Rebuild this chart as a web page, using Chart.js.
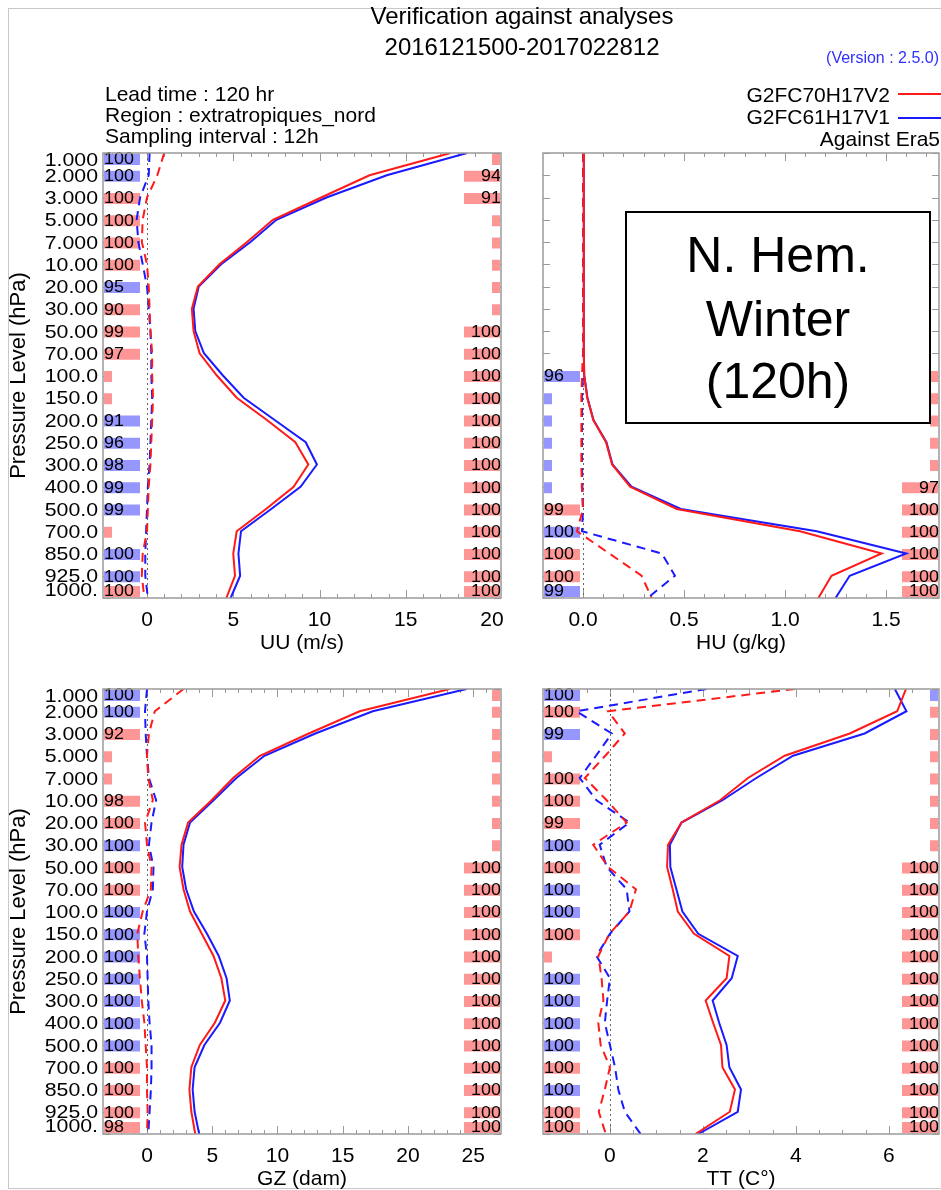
<!DOCTYPE html>
<html><head><meta charset="utf-8">
<script src="https://cdn.jsdelivr.net/npm/chart.js@4.4.1/dist/chart.umd.min.js"></script>
<style>
html,body{margin:0;padding:0;background:#fff;}
#wrap{position:relative;width:941px;height:1190px;overflow:hidden;background:#fff;}
#wrap canvas{position:absolute;left:0;top:0;}
#frame{position:absolute;left:8px;top:8px;width:940px;height:1179px;border:1px solid #c8c8c8;}
</style></head><body>
<div id="wrap"><div id="frame"></div>
<canvas id="cUU" width="941" height="1190"></canvas>
<canvas id="cHU" width="941" height="1190"></canvas>
<canvas id="cGZ" width="941" height="1190"></canvas>
<canvas id="cTT" width="941" height="1190"></canvas>
</div>
<script>
// ---------------- DATA ----------------
const levels = ['1.000','2.000','3.000','5.000','7.000','10.00','20.00','30.00','50.00','70.00','100.0','150.0','200.0','250.0','300.0','400.0','500.0','700.0','850.0','925.0','1000.'];
const expNew = 'G2FC70H17V2';
const expOld = 'G2FC61H17V1';

// UU (m/s)
const uuStdNew  = [17.6,12.9,10.1,7.3,5.8,4.2,2.95,2.6,2.7,3.05,4.05,5.2,6.95,8.6,9.35,8.5,6.9,5.2,5.0,5.1,4.6];
const uuStdOld  = [18.55,13.9,10.4,7.5,6.0,4.3,3.0,2.7,2.8,3.3,4.4,5.6,7.4,9.2,9.85,8.9,7.2,5.45,5.3,5.4,4.85];
const uuBiasNew = [1.0,0.6,0.0,-0.25,-0.3,0.0,0.1,0.15,0.2,0.3,0.3,0.35,0.3,0.25,0.2,0.1,0.05,0.0,-0.25,-0.3,-0.15];
const uuBiasOld = [0.15,0.1,-0.4,-0.6,-0.5,-0.25,0.0,0.1,0.2,0.25,0.25,0.3,0.25,0.2,0.15,0.05,0.0,-0.05,-0.1,-0.1,0.05];
const uuSigLeft  = ['b100','b100','r100','r100','r100','r100','b95','r90','r99','r97','r','r','b91','b96','b98','b99','b99','r','b100','b100','r100'];
const uuSigRight = ['r','r94','r91','r','r','r','r','r','r100','r100','r100','r100','r100','r100','r100','r100','r100','r100','r100','r100','r100'];
const uuTicks = [0,5,10,15,20];

// HU (g/kg)
const huStdNew  = [0.004,0.004,0.004,0.004,0.004,0.004,0.004,0.004,0.004,0.004,0.006,0.021,0.051,0.114,0.144,0.233,0.464,1.074,1.478,1.23,1.165];
const huStdOld  = [0.004,0.004,0.004,0.004,0.004,0.004,0.004,0.004,0.004,0.004,0.006,0.022,0.052,0.116,0.146,0.24,0.484,1.157,1.6,1.32,1.25];
const huBiasNew = [0,0,0,0,0,0,0,0,0,0,-0.005,-0.008,-0.008,-0.008,-0.008,-0.006,0.0,-0.03,0.13,0.29,0.34];
const huBiasOld = [0,0,0,0,0,0,0,0,0,0,0.0,-0.005,-0.005,-0.005,-0.005,-0.003,0.0,-0.005,0.39,0.455,0.32];
const huSigLeft  = ['','','','','','','','','','','b96','b','b','b','b','b','r99','b100','r100','r100','b99'];
const huSigRight = ['','','','','','','','','','','r','r','r','r','r','r97','r100','r100','r100','r100','r100'];
const huTicks = [0,0.5,1.0,1.5];

// GZ (dam)
const gzStdNew  = [23.2,16.3,12.4,8.66,6.6,4.95,3.15,2.65,2.5,2.8,3.3,4.2,5.1,5.7,6.0,5.2,4.05,3.4,3.25,3.4,3.7];
const gzStdOld  = [24.5,17.3,12.9,9.0,6.85,5.1,3.3,2.8,2.7,3.0,3.6,4.6,5.5,6.1,6.35,5.6,4.4,3.65,3.5,3.65,4.0];
const gzBiasNew = [2.8,0.6,0.15,0.0,0.1,0.45,-0.15,0.0,0.35,0.3,-0.33,-0.74,-0.67,-0.54,-0.4,-0.2,-0.1,0.0,0.0,0.05,0.0];
const gzBiasOld = [0.0,-0.15,-0.1,0.0,0.15,0.7,0.35,0.15,0.5,0.45,0.0,-0.2,0.0,0.05,0.1,0.2,0.35,0.35,0.3,0.2,0.1];
const gzSigLeft  = ['b100','b100','r92','r','r','r98','r100','b100','r100','r100','b100','b100','b100','b100','b100','b100','b100','r100','r100','r100','r98'];
const gzSigRight = ['r','r','r','r','r','r','r','r','r100','r100','r100','r100','r100','r100','r100','r100','r100','r100','r100','r100','r100'];
const gzTicks = [0,5,10,15,20,25];

// TT (C)
const ttStdNew  = [6.37,6.18,5.16,3.76,2.97,2.37,1.54,1.25,1.23,1.35,1.46,1.81,2.57,2.51,2.06,2.22,2.39,2.42,2.69,2.58,1.84];
const ttStdOld  = [6.13,6.38,5.48,3.94,3.15,2.42,1.54,1.29,1.30,1.43,1.56,1.9,2.75,2.62,2.21,2.35,2.51,2.57,2.82,2.75,1.9];
const ttBiasNew = [3.98,-0.04,0.32,-0.1,-0.54,-0.07,0.36,-0.36,-0.04,0.56,0.42,-0.01,-0.25,-0.18,-0.14,-0.25,-0.2,0.0,-0.11,-0.24,-0.09];
const ttBiasOld = [2.08,-0.72,0.04,-0.3,-0.65,-0.29,0.42,-0.22,-0.07,0.36,0.42,0.0,-0.29,0.0,-0.06,-0.11,0.0,0.11,0.18,0.32,0.66];
const ttSigLeft  = ['b100','r100','b99','r','r100','r100','r99','b100','r100','b100','b100','r100','r','b100','b100','b100','b100','r100','b100','r100','r100'];
const ttSigRight = ['b','r','r','r','r','r','r','r','r100','r100','r100','r100','r100','r100','r100','r100','r100','r100','r100','r100','r100'];
const ttTicks = [0,2,4,6];

// ---------------- STYLE ----------------
const RED = '#ff1a1a', BLUE = '#1a1aff';
const PINK = 'rgb(255,150,150)', LBLUE = 'rgb(150,150,255)';
const FONT = '"Liberation Sans", Arial, Helvetica, sans-serif';
const AXC = '#9a9a9a';

function series(vals, color, dashed, order){
  return {data: vals.map((v,i)=>({x:v, y:i})), borderColor: color, borderWidth: 2,
    borderDash: dashed ? [9,6] : [], pointRadius: 0, tension: 0, fill: false, order: order, showLine: true};
}

function txt(ctx, s, x, y, size, align, color, sx){
  ctx.save();
  ctx.font = size + 'px ' + FONT;
  ctx.fillStyle = color || '#000';
  ctx.textAlign = align || 'left';
  ctx.textBaseline = 'middle';
  ctx.translate(x, y);
  ctx.scale(sx || 1, 1);
  ctx.fillText(s, 0, 0);
  ctx.restore();
}

function makePanel(cfg){
  const plugin = {
    id: 'panel_' + cfg.id,
    beforeDatasetsDraw(chart){
      const ctx = chart.ctx, a = chart.chartArea, xs = chart.scales.x, ys = chart.scales.y;
      // tick marks (under the significance boxes)
      ctx.save();
      ctx.strokeStyle = AXC; ctx.lineWidth = 1;
      ctx.beginPath();
      for (let i = 0; i < levels.length; i++){
        const y = Math.round(ys.getPixelForValue(i)) + 0.5;
        ctx.moveTo(a.left, y); ctx.lineTo(a.left + 7, y);
        ctx.moveTo(a.right, y); ctx.lineTo(a.right - 7, y);
      }
      const st = cfg.minor;
      const start = Math.ceil(xs.min / st - 1e-9);
      for (let k = start; k * st <= xs.max + 1e-9; k++){
        const v = k * st;
        const isMajor = Math.abs(v / cfg.majorStep - Math.round(v / cfg.majorStep)) < 1e-6;
        const len = isMajor ? 8 : 4;
        const x = Math.round(xs.getPixelForValue(v)) + 0.5;
        ctx.moveTo(x, a.bottom); ctx.lineTo(x, a.bottom - len);
        ctx.moveTo(x, a.top); ctx.lineTo(x, a.top + len);
      }
      ctx.stroke();
      ctx.restore();
      // significance boxes
      const drawSig = (arr, side) => {
        arr.forEach((code, i) => {
          if (!code) return;
          const col = code[0] === 'b' ? LBLUE : PINK;
          const num = code.slice(1);
          const yc = ys.getPixelForValue(i) + 1;
          let top = yc - 5.5;
          top = Math.max(a.top + 1, Math.min(a.bottom - 12, top));
          const w = num ? 36 : 8;
          const x = side === 'left' ? a.left + 1 : a.right - 1 - w;
          ctx.fillStyle = col;
          ctx.fillRect(x, top, w, 11);
          if (num){
            if (side === 'left') txt(ctx, num, a.left + 1, top + 6, 16, 'left', '#000', 1.12);
            else txt(ctx, num, a.right, top + 6, 16, 'right', '#000', 1.12);
          }
        });
      };
      drawSig(cfg.sigLeft, 'left');
      drawSig(cfg.sigRight, 'right');
      // zero line
      const x0 = Math.round(xs.getPixelForValue(0)) + 0.5;
      ctx.save();
      ctx.strokeStyle = '#666'; ctx.lineWidth = 1; ctx.setLineDash([2,3]);
      ctx.beginPath(); ctx.moveTo(x0, a.top); ctx.lineTo(x0, a.bottom); ctx.stroke();
      ctx.restore();
    },
    afterDatasetsDraw(chart){
      const ctx = chart.ctx, a = chart.chartArea, xs = chart.scales.x, ys = chart.scales.y;
      ctx.save();
      ctx.strokeStyle = AXC; ctx.lineWidth = 1.5;
      ctx.strokeRect(a.left, a.top, a.right - a.left, a.bottom - a.top);
      ctx.restore();
      cfg.ticks.forEach(v => {
        const x = xs.getPixelForValue(v);
        txt(ctx, cfg.fmt(v), x, a.bottom + 22, 21, 'center', '#000');
      });
      txt(ctx, cfg.title, (a.left + a.right) / 2, a.bottom + 45, 21, 'center', '#000');
      if (cfg.yLabels){
        levels.forEach((lab, i) => {
          let y = ys.getPixelForValue(i) + 1.5;
          y = Math.max(a.top + 8, Math.min(a.bottom - 7, y));
          txt(ctx, lab, a.left - 5, y, 19, 'right', '#000', 1.12);
        });
        ctx.save();
        ctx.translate(19, (a.top + a.bottom) / 2);
        ctx.rotate(-Math.PI / 2);
        ctx.font = '22px ' + FONT; ctx.fillStyle = '#000';
        ctx.textAlign = 'center'; ctx.textBaseline = 'middle';
        ctx.fillText('Pressure Level (hPa)', 0, 0);
        ctx.restore();
      }
      if (cfg.extra) cfg.extra(chart);
    }
  };
  const a = cfg.area;
  return new Chart(document.getElementById(cfg.canvas), {
    type: 'line',
    data: { datasets: [
      series(cfg.stdNew, RED, false, 0),
      series(cfg.stdOld, BLUE, false, 1),
      series(cfg.biasNew, RED, true, 2),
      series(cfg.biasOld, BLUE, true, 3)
    ]},
    options: {
      responsive: false, animation: false, devicePixelRatio: 1,
      layout: { padding: { left: a.left, top: a.top, right: 941 - a.right, bottom: 1190 - a.bottom } },
      plugins: { legend: { display: false }, tooltip: { enabled: false }, title: { display: false } },
      scales: {
        x: { type: 'linear', display: false, min: cfg.xmin, max: cfg.xmax },
        y: { type: 'linear', display: false, min: 0, max: levels.length - 1, reverse: true }
      }
    },
    plugins: [plugin]
  });
}

function headerText(chart){
  const ctx = chart.ctx;
  txt(ctx, 'Verification against analyses', 522, 17, 24, 'center', '#000');
  txt(ctx, '2016121500-2017022812', 522, 48, 24, 'center', '#000');
  txt(ctx, '(Version : 2.5.0)', 939, 59, 16, 'right', '#2f2fff');
  txt(ctx, 'Lead time : 120 hr', 105, 95, 21, 'left', '#000');
  txt(ctx, 'Region : extratropiques_nord', 105, 116, 21, 'left', '#000');
  txt(ctx, 'Sampling interval : 12h', 105, 137, 21, 'left', '#000');
  txt(ctx, expNew, 890, 96, 21, 'right', '#000');
  txt(ctx, expOld, 890, 118, 21, 'right', '#000');
  txt(ctx, 'Against Era5', 940, 140, 21, 'right', '#000');
  ctx.save();
  ctx.lineWidth = 2;
  ctx.strokeStyle = RED; ctx.beginPath(); ctx.moveTo(898, 94); ctx.lineTo(941, 94); ctx.stroke();
  ctx.strokeStyle = BLUE; ctx.beginPath(); ctx.moveTo(898, 118); ctx.lineTo(941, 118); ctx.stroke();
  ctx.restore();
}

function seasonBox(chart){
  const ctx = chart.ctx;
  ctx.save();
  ctx.fillStyle = '#fff';
  ctx.fillRect(626, 212, 304, 211);
  ctx.strokeStyle = '#000'; ctx.lineWidth = 2;
  ctx.strokeRect(626, 212, 304, 211);
  ctx.restore();
  txt(ctx, 'N. Hem.', 778, 258, 50, 'center', '#000');
  txt(ctx, 'Winter', 778, 322, 50, 'center', '#000');
  txt(ctx, '(120h)', 778, 384, 50, 'center', '#000');
}

const fmtInt = v => String(v);
const fmt1 = v => v.toFixed(1);

makePanel({id:'uu', canvas:'cUU', area:{left:103, top:153, right:501, bottom:598},
  xmin:-2.55, xmax:20.52, minor:1, majorStep:5, ticks:uuTicks, fmt:fmtInt, title:'UU (m/s)', yLabels:true,
  stdNew:uuStdNew, stdOld:uuStdOld, biasNew:uuBiasNew, biasOld:uuBiasOld, sigLeft:uuSigLeft, sigRight:uuSigRight,
  extra: headerText});
makePanel({id:'hu', canvas:'cHU', area:{left:543, top:153, right:939, bottom:598},
  xmin:-0.198, xmax:1.762, minor:0.1, majorStep:0.5, ticks:huTicks, fmt:fmt1, title:'HU (g/kg)', yLabels:false,
  stdNew:huStdNew, stdOld:huStdOld, biasNew:huBiasNew, biasOld:huBiasOld, sigLeft:huSigLeft, sigRight:huSigRight,
  extra: seasonBox});
makePanel({id:'gz', canvas:'cGZ', area:{left:103, top:689, right:501, bottom:1134},
  xmin:-3.37, xmax:27.13, minor:1, majorStep:5, ticks:gzTicks, fmt:fmtInt, title:'GZ (dam)', yLabels:true,
  stdNew:gzStdNew, stdOld:gzStdOld, biasNew:gzBiasNew, biasOld:gzBiasOld, sigLeft:gzSigLeft, sigRight:gzSigRight});
makePanel({id:'tt', canvas:'cTT', area:{left:543, top:689, right:939, bottom:1134},
  xmin:-1.44, xmax:7.08, minor:0.5, majorStep:2, ticks:ttTicks, fmt:fmtInt, title:'TT (C°)', yLabels:false,
  stdNew:ttStdNew, stdOld:ttStdOld, biasNew:ttBiasNew, biasOld:ttBiasOld, sigLeft:ttSigLeft, sigRight:ttSigRight});
</script>
</body></html>
